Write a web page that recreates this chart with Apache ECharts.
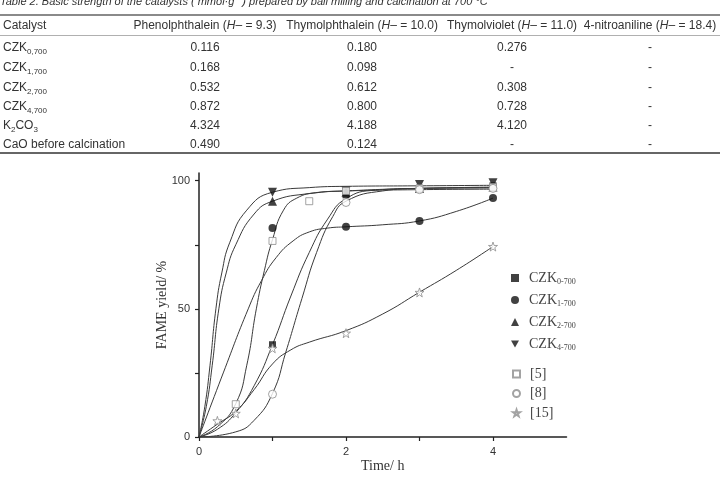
<!DOCTYPE html>
<html>
<head>
<meta charset="utf-8">
<script src="https://cdn.jsdelivr.net/npm/echarts@6/dist/echarts.min.js"></script>
<style>
  html, body { margin: 0; padding: 0; background: #fff; }
  #main { width: 720px; height: 477px; }
</style>
</head>
<body>
<div id="main"></div>
<script>
// table data
var catalysts = ['CZK_{0,700}', 'CZK_{1,700}', 'CZK_{2,700}', 'CZK_{4,700}', 'K_{2}CO_{3}', 'CaO before calcination'];
var indicators = ['Phenolphthalein', 'Thymolphthalein', 'Thymolviolet', '4-nitroaniline'];
var hMinus = [9.3, 10.0, 11.0, 18.4];
var phenolphthalein = [0.116, 0.168, 0.532, 0.872, 4.324, 0.490];
var thymolphthalein = [0.180, 0.098, 0.612, 0.800, 4.188, 0.124];
var thymolviolet = [0.276, null, 0.308, 0.728, 4.120, null];
var nitroaniline = [null, null, null, null, null, null];

// chart data: measured points
var czk0 = [[1, 36], [2, 94.5], [3, 97], [4, 98]];
var czk1 = [[1, 81.5], [2, 82], [3, 84.3], [4, 93.2]];
var czk2 = [[1, 92], [2, 95.5], [3, 97], [4, 97.5]];
var czk4 = [[1, 95.5], [2, 96], [3, 98.5], [4, 99.2]];
var ref5 = [[0.5, 12.8], [1, 76.5], [1.5, 92], [2, 96], [3, 97], [4, 97.5]];
var ref8 = [[1, 16.7], [2, 91.5], [3, 96.5], [4, 97]];
var ref15 = [[0.25, 6.3], [0.5, 9.2], [1, 34.6], [2, 40.5], [3, 56.4], [4, 74.3]];

// fitted curves
var fitCzk0 = [[0, 0], [0.25, 3], [0.5, 9.5], [0.75, 20], [1, 36], [1.25, 55], [1.5, 72], [1.75, 85], [2, 93], [2.4, 96.3], [3, 97], [4, 97.5]];
var fitCzk1 = [[0, 0], [0.33, 25], [0.67, 50], [0.85, 61], [1.05, 70], [1.28, 76.5], [1.5, 80], [1.75, 81.5], [2, 82], [2.5, 82.8], [3, 84.3], [3.5, 88], [4, 93.2]];
var fitCzk2 = [[0, 0], [0.1, 12], [0.18, 28], [0.27, 50], [0.37, 64], [0.5, 75], [0.75, 87], [1, 92], [1.5, 95], [2, 96], [3, 97], [4, 97.3]];
var fitCzk4 = [[0, 0], [0.08, 12], [0.15, 28], [0.23, 50], [0.31, 64], [0.42, 76], [0.65, 88.5], [1, 95.5], [1.5, 97.3], [2, 97.8], [3, 98], [4, 98.2]];
var fitRef5 = [[0, 0], [0.25, 4], [0.5, 13], [0.65, 28], [0.78, 50], [0.89, 65], [1, 77], [1.15, 88.5], [1.33, 93.2], [1.6, 95.3], [2, 96], [3, 96.5], [4, 96.7]];
var fitRef8 = [[0, 0], [0.5, 2], [0.75, 6.5], [1, 17], [1.18, 33], [1.4, 54], [1.6, 72], [1.82, 86], [2, 92], [2.5, 96], [3, 97], [4, 97.2]];
var fitRef15 = [[0, 0], [0.25, 5], [0.5, 10], [0.75, 18.5], [1, 28.5], [1.25, 34], [1.5, 37], [2, 41.5], [2.5, 48], [3, 56.5], [3.5, 65], [4, 74.3]];

var xTicks = [0, 1, 2, 3, 4];
var xLabels = [0, 2, 4];
var yTicks = [0, 25, 50, 75, 100];
var yLabels = [0, 50, 100];

var sans = '"Liberation Sans", Arial, sans-serif';
var serif = '"Liberation Serif", "Times New Roman", serif';

var Chart = echarts.init(document.getElementById('main'));

// ----- table built with graphic elements -----
var colX = [205, 362, 512, 650];
var rowY = [48, 68, 87.5, 107, 126, 145];
var columns = [phenolphthalein, thymolphthalein, thymolviolet, nitroaniline];
var cellRich = {
  s: { fontSize: 8, fontFamily: sans, fill: '#333', verticalAlign: 'bottom', lineHeight: 16 },
  i: { fontSize: 12, fontFamily: sans, fontStyle: 'italic', fill: '#333', lineHeight: 16 }
};

function toRich(s) {
  return s.replace(/_\{([^}]*)\}/g, '{s|$1}');
}
function cell(text, x, y, align) {
  return {
    type: 'text', x: x, y: y, silent: true,
    style: {
      text: text, fontSize: 12, fontFamily: sans, fill: '#333', lineHeight: 16,
      align: align, verticalAlign: 'middle', rich: cellRich
    }
  };
}
function hline(y, w, color) {
  return { type: 'line', silent: true, shape: { x1: 0, y1: y, x2: 720, y2: y }, style: { stroke: color, lineWidth: w } };
}

var graphics = [];
graphics.push({
  type: 'text', x: 0, y: 1.5, silent: true,
  style: {
    text: 'Table 2. Basic strength of the catalysts ( mmol·g{sup|−1}) prepared by ball milling and calcination at 700 °C',
    fontSize: 11, fontFamily: sans, fontStyle: 'italic', fill: '#333', verticalAlign: 'middle', lineHeight: 14,
    rich: { sup: { fontSize: 7, fontFamily: sans, fontStyle: 'italic', fill: '#333', verticalAlign: 'top', lineHeight: 14 } }
  }
});
graphics.push(hline(15, 2, '#8a8a8a'));
graphics.push(hline(35.5, 1, '#b0b0b0'));
graphics.push(hline(153, 2, '#666'));
graphics.push(cell('Catalyst', 3, 26, 'left'));
indicators.forEach(function (name, j) {
  graphics.push(cell(name + ' ({i|H}– = ' + hMinus[j].toFixed(1) + ')', colX[j], 26, 'center'));
});
catalysts.forEach(function (c, i) {
  graphics.push(cell(toRich(c), 3, rowY[i], 'left'));
  columns.forEach(function (col, j) {
    var v = col[i];
    graphics.push(cell(v == null ? '-' : v.toFixed(3), colX[j], rowY[i], 'center'));
  });
});

// ----- chart -----
var starPath = 'path://M5,0L6.2,3.6L10,3.6L7,5.9L8.1,9.5L5,7.3L1.9,9.5L3,5.9L0,3.6L3.8,3.6Z';
var downTri = 'path://M0,0L10,0L5,9Z';

function fitLine(data) {
  return {
    type: 'line', data: data, smooth: 0.5, showSymbol: false, silent: true,
    lineStyle: { color: '#3a3a3a', width: 1 }, z: 2
  };
}
function points(name, data, symbol, size, filled) {
  return {
    type: 'scatter', name: name, data: data, symbol: symbol, symbolSize: size, z: 5,
    itemStyle: filled
      ? { color: '#111', borderColor: '#111', borderWidth: 0 }
      : { color: '#fff', borderColor: '#8c8c8c', borderWidth: 1 }
  };
}

var legendRich = {
  g: { width: 5 },
  n: { fontSize: 14, fontFamily: serif, color: '#444', lineHeight: 16 },
  s: { fontSize: 8, fontFamily: serif, color: '#444', lineHeight: 16, verticalAlign: 'bottom' }
};
function legendFormatter(name) {
  if (name.indexOf('CZK') === 0) return '{g|}{n|CZK}{s|' + name.slice(3) + '}';
  return '{g|}{n|' + name + '}';
}

var option = {
  animation: false,
  backgroundColor: '#fff',
  graphic: graphics,
  legend: [{
    data: ['CZK0-700', 'CZK1-700', 'CZK2-700', 'CZK4-700'],
    orient: 'vertical', left: 506, top: 266, itemGap: 7, itemWidth: 8, itemHeight: 8,
    selectedMode: false, formatter: legendFormatter,
    textStyle: { rich: legendRich }
  }, {
    data: ['[5]', '[8]', '[15]'],
    orient: 'vertical', left: 507, top: 362, itemGap: 5.5, itemWidth: 7, itemHeight: 7,
    selectedMode: false, formatter: legendFormatter,
    textStyle: { rich: legendRich }
  }],
  grid: { left: 199, right: 153.5, top: 173, bottom: 40, outerBoundsMode: 'none' },
  xAxis: {
    type: 'value', min: 0, max: 5,
    name: 'Time/ h', nameLocation: 'middle', nameGap: 22, nameMoveOverlap: false,
    nameTextStyle: { fontFamily: serif, fontSize: 14, color: '#333' },
    axisLine: { lineStyle: { color: '#222', width: 1.5 } },
    axisTick: { inside: false, length: 4, customValues: xTicks, lineStyle: { color: '#222', width: 1.2 } },
    axisLabel: { customValues: xLabels, fontFamily: sans, fontSize: 11, color: '#333', margin: 9 },
    splitLine: { show: false }
  },
  yAxis: {
    type: 'value', min: 0, max: 103,
    name: 'FAME yield/ %', nameLocation: 'middle', nameGap: 30, nameMoveOverlap: false,
    nameTextStyle: { fontFamily: serif, fontSize: 14, color: '#333' },
    axisLine: { show: true, lineStyle: { color: '#222', width: 1.5 } },
    axisTick: { show: true, inside: false, length: 4, customValues: yTicks, lineStyle: { color: '#222', width: 1.2 } },
    axisLabel: { customValues: yLabels, fontFamily: sans, fontSize: 11, color: '#333', margin: 9 },
    splitLine: { show: false }
  },
  series: [
    fitLine(fitCzk0), fitLine(fitCzk1), fitLine(fitCzk2), fitLine(fitCzk4),
    fitLine(fitRef5), fitLine(fitRef8), fitLine(fitRef15),
    points('CZK0-700', czk0, 'rect', 7, true),
    points('CZK1-700', czk1, 'circle', 8, true),
    points('CZK2-700', czk2, 'triangle', 9, true),
    points('CZK4-700', czk4, downTri, 9, true),
    points('[5]', ref5, 'rect', 7, false),
    points('[8]', ref8, 'circle', 8, false),
    points('[15]', ref15, starPath, 9, false)
  ]
};
Chart.setOption(option);
</script>
</body>
</html>
